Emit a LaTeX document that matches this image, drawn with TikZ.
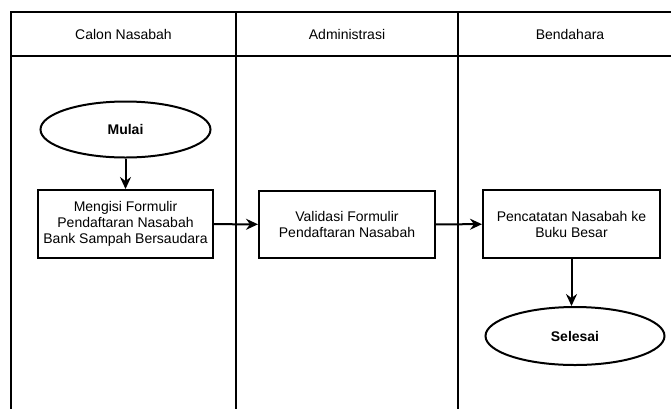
\documentclass[tikz,border=0pt]{standalone}
\usepackage{fontspec}
\setmainfont{Liberation Sans}
\usetikzlibrary{shapes.geometric,arrows.meta}
\begin{document}
\begin{tikzpicture}[x=1pt,y=-1pt,
 poolline/.style={line width=2pt},
 lane/.style={draw=none, minimum width=220pt, minimum height=42pt, font=\fontsize{14}{16}\selectfont},
 proc/.style={draw, line width=2pt, minimum width=175pt, minimum height=68pt, align=center, font=\fontsize{14}{16}\selectfont, inner sep=2pt},
 term/.style={draw, ellipse, line width=2pt, minimum width=170pt, minimum height=56pt, font=\bfseries\fontsize{14}{16}\selectfont},
 flow/.style={line width=2pt, -{Stealth[length=12pt,width=11pt,inset=4pt]}}]
\useasboundingbox (0,0) rectangle (671,408);
\clip (0,0) rectangle (671,408);
\draw[poolline] (11,12) rectangle (682,420);
\draw[poolline] (11,56) -- (682,56) (236,12) -- (236,420) (458,12) -- (458,420);
\node[lane] (h1) at (123.5,34) {Calon Nasabah};
\node[lane] (h2) at (347,34) {Administrasi};
\node[lane] (h3) at (570,34) {Bendahara};
\node[term] (mulai) at (125.5,129.5) {Mulai};
\node[proc] (p1) at (125.5,224) {Mengisi Formulir\\Pendaftaran Nasabah\\Bank Sampah Bersaudara};
\node[proc, minimum width=176pt, minimum height=67pt] (p2) at (347,224.5) {Validasi Formulir\\Pendaftaran Nasabah};
\node[proc, minimum width=177pt] (p3) at (571.5,224) {Pencatatan Nasabah ke\\Buku Besar};
\node[term, minimum width=179pt, minimum height=58pt] (selesai) at (575,336) {Selesai};
\draw[flow] (mulai) -- (p1);
\draw[flow] (p1) -- (p2);
\draw[flow] (p2) -- (p3);
\draw[flow] (p3.south) -- (p3.south |- selesai.north);
\end{tikzpicture}
\end{document}
